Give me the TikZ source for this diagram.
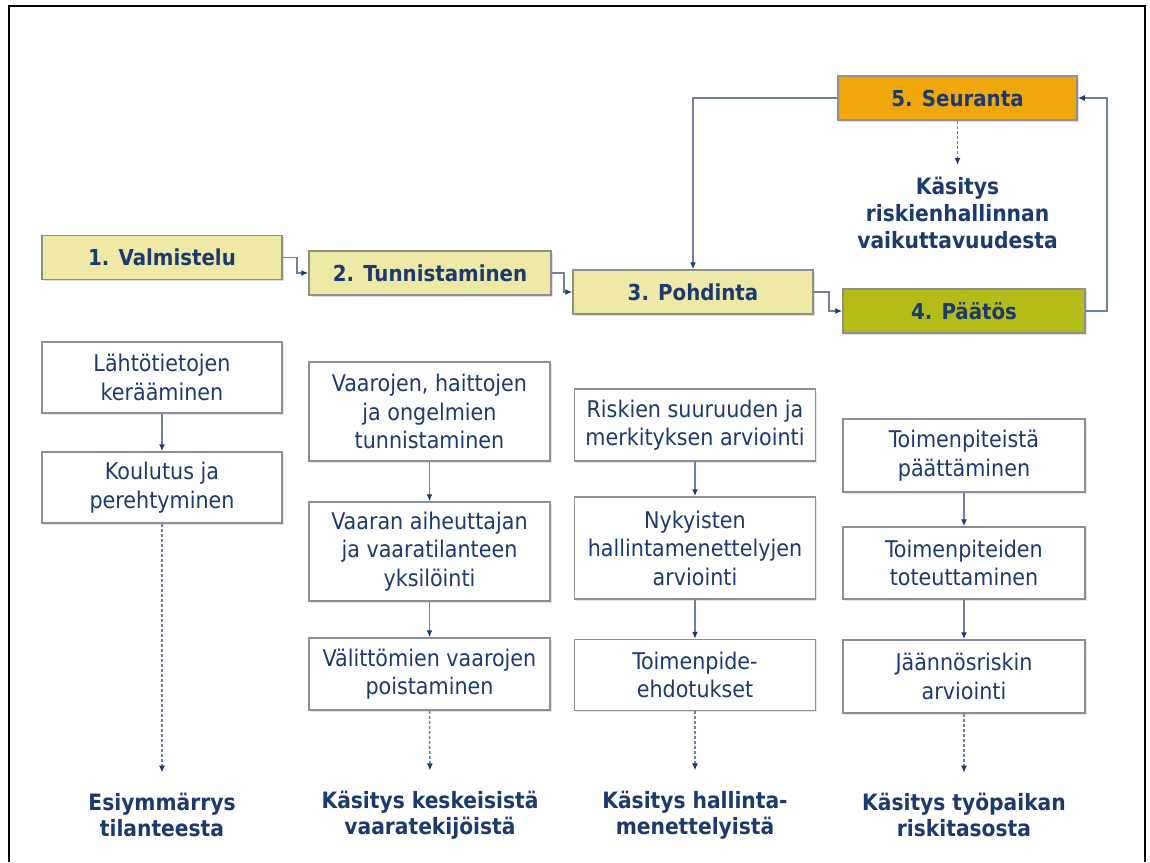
\documentclass[tikz,border=0pt]{standalone}
\usepackage{fontspec}
\setmainfont{DejaVu Sans Condensed}[BoldFont={DejaVu Sans Condensed Bold}]
\usetikzlibrary{arrows.meta,shadows}
\definecolor{navy}{HTML}{1C3A6E}
\definecolor{connc}{HTML}{6F819F}
\definecolor{pale}{HTML}{EFE9A8}
\definecolor{olive}{HTML}{B4BC17}
\definecolor{orng}{HTML}{F0A70B}
\definecolor{hdrline}{HTML}{8F8F85}
\definecolor{boxline}{HTML}{8A909A}
\begin{document}
\begin{tikzpicture}[x=1pt,y=-1pt,
  hdr/.style={draw=hdrline,line width=1.5pt,fill=pale,minimum width=240pt,minimum height=44pt,
    inner sep=0pt,font=\fontsize{22}{25}\selectfont\bfseries,text=navy,
    drop shadow={shadow xshift=1.5pt,shadow yshift=-1.5pt,opacity=0.25}},
  wbox/.style={draw=boxline,line width=1.5pt,fill=white,minimum width=241pt,inner sep=0pt,
    align=center,font=\fontsize{23}{28.5}\selectfont,text=navy,
    drop shadow={shadow xshift=1.5pt,shadow yshift=-1.5pt,opacity=0.2}},
  res/.style={align=center,font=\fontsize{22.5}{26.5}\selectfont\bfseries,text=navy,inner sep=0pt},
  conn/.style={draw=connc,line width=1.5pt,-{Latex[length=7pt,width=6pt,color=navy]}},
  dconn/.style={conn,dash pattern=on 3pt off 2pt},
]
\useasboundingbox (0,0) rectangle (1150,862);
\fill[white] (0,0) rectangle (1150,862);
\draw[line width=2pt] (9,862) -- (9,6) -- (1145,6) -- (1145,862);

% header steps
\node[hdr] (v1) at (162,257.5) {1. Valmistelu};
\node[hdr,minimum width=242pt] (v2) at (430,273) {2. Tunnistaminen};
\node[hdr] (v3) at (693,292) {3. Pohdinta};
\node[hdr,fill=olive,minimum width=242pt] (v4) at (964,311) {4. Päätös};
\node[hdr,fill=orng,minimum width=239pt] (v5) at (957.5,98) {5. Seuranta};
\node[res,font=\fontsize{22.5}{27}\selectfont\bfseries] (k5) at (957.5,213)
  {Käsitys\\riskienhallinnan\\vaikuttavuudesta};

% column 1
\node[wbox,minimum width=240pt,minimum height=71pt] (a1) at (162,377.5) {Lähtötietojen\\kerääminen};
\node[wbox,minimum width=240pt,minimum height=71pt] (a2) at (162,487.5) {Koulutus ja\\perehtyminen};
% column 2
\node[wbox,minimum height=99pt] (b1) at (429.5,411.5) {Vaarojen, haittojen\\ja ongelmien\\tunnistaminen};
\node[wbox,minimum height=99pt] (b2) at (429.5,551.5) {Vaaran aiheuttajan\\ja vaaratilanteen\\yksilöinti};
\node[wbox,minimum height=72pt] (b3) at (429.5,674) {Välittömien vaarojen\\poistaminen};
% column 3
\node[wbox,minimum height=72pt] (c1) at (695,425) {Riskien suuruuden ja\\merkityksen arviointi};
\node[wbox,minimum height=102pt] (c2) at (695,548) {Nykyisten\\hallintamenettelyjen\\arviointi};
\node[wbox,minimum height=71pt] (c3) at (695,675) {Toimenpide-\\ehdotukset};
% column 4
\node[wbox,minimum width=242pt,minimum height=73pt] (d1) at (964,455.5) {Toimenpiteistä\\päättäminen};
\node[wbox,minimum width=242pt,minimum height=72pt] (d2) at (964,563) {Toimenpiteiden\\toteuttaminen};
\node[wbox,minimum width=242pt,minimum height=73pt] (d3) at (964,676.5) {Jäännösriskin\\arviointi};

% results
\node[res] (r1) at (162,815) {Esiymmärrys\\tilanteesta};
\node[res] (r2) at (430,815) {Käsitys keskeisistä\\vaaratekijöistä};
\node[res] (r3) at (695,815) {Käsitys hallinta-\\menettelyistä};
\node[res] (r4) at (964,815) {Käsitys työpaikan\\riskitasosta};

% header connectors
\draw[conn] (v1.east) -- ++(14,0) |- (v2.west);
\draw[conn] (v2.east) -- ++(12,0) |- (v3.west);
\draw[conn] (v3.east) -- ++(15,0) |- (v4.west);
\draw[conn] (v4.east) -- ++(21,0) |- (v5.east);
\draw[conn] (v5.west) -| (v3.north);
\draw[dconn,shorten >=12pt] (v5.south) -- (k5.north);

% column connectors
\draw[conn] (a1.south) -- (a2.north);
\draw[conn] (b1.south) -- (b2.north);
\draw[conn] (b2.south) -- (b3.north);
\draw[conn] (c1.south) -- (c2.north);
\draw[conn] (c2.south) -- (c3.north);
\draw[conn] (d1.south) -- (d2.north);
\draw[conn] (d2.south) -- (d3.north);

% dashed to results
\draw[dconn,shorten >=20pt] (a2.south) -- (r1.north);
\draw[dconn,shorten >=20pt] (b3.south) -- (r2.north);
\draw[dconn,shorten >=20pt] (c3.south) -- (r3.north);
\draw[dconn,shorten >=20pt] (d3.south) -- (r4.north);
\end{tikzpicture}
\end{document}
